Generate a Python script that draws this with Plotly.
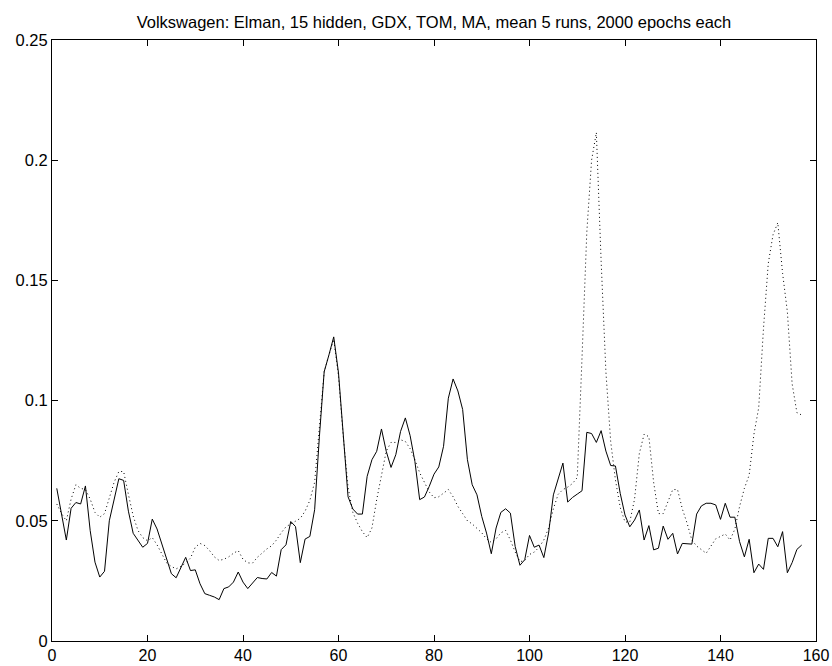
import plotly.graph_objects as go

x_vals = list(range(1, 158))

solid = [
    0.0635, 0.053, 0.042, 0.0552, 0.0576, 0.057, 0.0645, 0.0459, 0.0328, 0.0266,
    0.029, 0.050, 0.0585, 0.0675, 0.0668, 0.054, 0.0448, 0.042, 0.039, 0.0406,
    0.0507, 0.0466, 0.0404, 0.0335, 0.028, 0.0263, 0.0307, 0.0348, 0.0293, 0.0296,
    0.0238, 0.0197, 0.019, 0.0183, 0.0172, 0.0218, 0.0225, 0.0245, 0.0287, 0.0245,
    0.0218, 0.024, 0.0264, 0.026, 0.0258, 0.0285, 0.027, 0.038, 0.040, 0.0497,
    0.0476, 0.0326, 0.0424, 0.0435, 0.0546, 0.085, 0.112, 0.119, 0.1265, 0.1115,
    0.085, 0.060, 0.0549, 0.0528, 0.0528, 0.0685, 0.0754, 0.0789, 0.0882, 0.0789,
    0.0722, 0.0775, 0.0872, 0.0928, 0.0854, 0.0747, 0.0588, 0.0599, 0.0643, 0.0694,
    0.0724, 0.081, 0.101, 0.109, 0.104, 0.0963, 0.0754, 0.065, 0.0608, 0.0518,
    0.0449, 0.0363, 0.047, 0.0535, 0.055, 0.0532, 0.0393, 0.0315, 0.0338, 0.0439,
    0.039, 0.0399, 0.0347, 0.0449, 0.0608, 0.067, 0.074, 0.0578, 0.0597, 0.0611,
    0.0625, 0.0868, 0.0863, 0.0826, 0.0875, 0.079, 0.073, 0.0728, 0.0614, 0.0524,
    0.0475, 0.0503, 0.0545, 0.042, 0.048, 0.0379, 0.0386, 0.0478, 0.0423, 0.0448,
    0.0362, 0.0406, 0.0403, 0.0403, 0.0528, 0.0562, 0.0573, 0.0573, 0.0566, 0.0506,
    0.0573, 0.0515, 0.0515, 0.0413, 0.035, 0.0423, 0.0284, 0.032, 0.0298, 0.0427,
    0.0427, 0.0392, 0.0455, 0.0284, 0.0326, 0.0381, 0.0399,
]

dotted = [
    0.057, 0.053, 0.050, 0.059, 0.065, 0.0635, 0.063, 0.059, 0.0535, 0.0515,
    0.053, 0.059, 0.066, 0.0705, 0.0705, 0.061, 0.052, 0.046, 0.043, 0.0417,
    0.043, 0.040, 0.036, 0.0325, 0.031, 0.030, 0.031, 0.0325, 0.0345, 0.039,
    0.0406, 0.0397, 0.0376, 0.035, 0.0335, 0.034, 0.035, 0.0365, 0.0376, 0.034,
    0.0325, 0.0324, 0.0348, 0.0367, 0.0383, 0.0396, 0.042, 0.045, 0.0475, 0.0487,
    0.050, 0.051, 0.054, 0.0585, 0.066, 0.089, 0.112, 0.119, 0.1255, 0.110,
    0.085, 0.064, 0.0535, 0.049, 0.0455, 0.043, 0.047, 0.0588, 0.069, 0.079,
    0.0826, 0.0826, 0.0837, 0.083, 0.080, 0.0754, 0.070, 0.066, 0.062, 0.0596,
    0.060, 0.0615, 0.063, 0.060, 0.056, 0.053, 0.050, 0.0487, 0.047, 0.045,
    0.0425, 0.041, 0.0425, 0.045, 0.046, 0.042, 0.037, 0.033, 0.0335, 0.036,
    0.037, 0.039, 0.042, 0.047, 0.055, 0.061, 0.063, 0.064, 0.0655, 0.068,
    0.118, 0.170, 0.200, 0.2115, 0.158, 0.112, 0.083, 0.067, 0.0555, 0.0495,
    0.0495, 0.059, 0.078, 0.086, 0.085, 0.066, 0.053, 0.053, 0.058, 0.063,
    0.063, 0.055, 0.049, 0.042, 0.0395, 0.038, 0.0365, 0.0395, 0.0425, 0.0435,
    0.0445, 0.042, 0.0465, 0.056, 0.0635, 0.069, 0.086, 0.097, 0.130, 0.157,
    0.169, 0.174, 0.153, 0.137, 0.107, 0.095, 0.094,
]

x_ticks = [0, 20, 40, 60, 80, 100, 120, 140, 160]
y_ticks = [0, 0.05, 0.1, 0.15, 0.2, 0.25]
y_tick_text = ["0", "0.05", "0.1", "0.15", "0.2", "0.25"]

title_text = "Volkswagen: Elman, 15 hidden, GDX, TOM, MA, mean 5 runs, 2000 epochs each"

fig = go.Figure()
fig.add_trace(go.Scatter(x=x_vals, y=dotted, mode="lines",
                         line=dict(color="black", width=1, dash="1px,3px"),
                         showlegend=False))
fig.add_trace(go.Scatter(x=x_vals, y=solid, mode="lines",
                         line=dict(color="black", width=1),
                         showlegend=False))

font_family = "Liberation Sans, Arial, Helvetica, sans-serif"

fig.update_layout(
    width=832, height=666,
    margin=dict(l=52, r=16, t=40, b=25, autoexpand=False),
    paper_bgcolor="white", plot_bgcolor="white",
    font=dict(family=font_family, size=16, color="black"),
    title=dict(text=title_text, x=0.5216, xanchor="center", y=1 - 22 / 666,
               yanchor="middle", font=dict(size=16.5, color="black")),
    showlegend=False,
)
fig.update_xaxes(range=[0, 160], tickvals=x_ticks, ticks="inside", ticklen=6,
                 tickcolor="black", showline=True, linecolor="black", linewidth=1,
                 mirror="ticks", showgrid=False, zeroline=False, automargin=False,
                 tickfont=dict(size=16))
fig.update_yaxes(range=[0, 0.25], tickvals=y_ticks, ticktext=y_tick_text,
                 ticks="inside", ticklen=6, tickcolor="black", showline=True,
                 linecolor="black", linewidth=1, mirror="ticks", showgrid=False,
                 zeroline=False, automargin=False, tickfont=dict(size=16.5))

fig.write_html("out.html")
